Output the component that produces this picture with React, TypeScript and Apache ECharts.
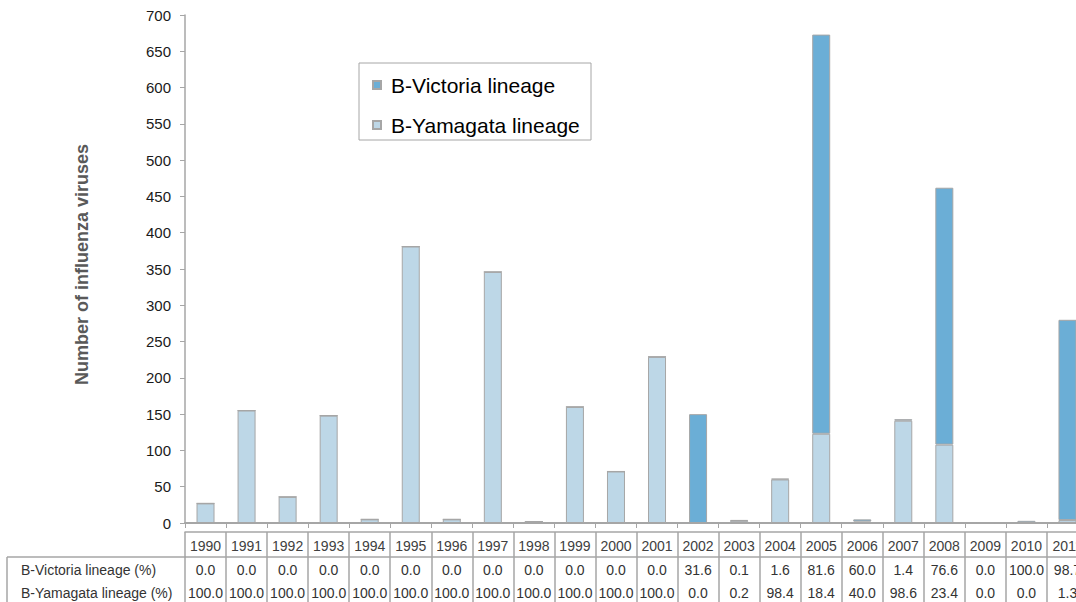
import React, { useEffect, useRef } from "react";
import * as echarts from "echarts";

const years = [
  "1990", "1991", "1992", "1993", "1994", "1995", "1996", "1997", "1998", "1999", "2000",
  "2001", "2002", "2003", "2004", "2005", "2006", "2007", "2008", "2009", "2010", "2011",
];
const victoriaCounts = [0, 0, 0, 0, 0, 0, 0, 0, 0, 0, 0, 0, 150, 1, 1, 550, 3, 2, 354, 0, 3, 276];
const yamagataCounts = [27, 155, 36, 148, 5, 381, 5, 346, 2, 160, 71, 229, 0, 3, 60, 123, 2, 141, 108, 0, 0, 4];
const victoriaPct = [0, 0, 0, 0, 0, 0, 0, 0, 0, 0, 0, 0, 31.6, 0.1, 1.6, 81.6, 60.0, 1.4, 76.6, 0, 100.0, 98.7];
const yamagataPct = [100, 100, 100, 100, 100, 100, 100, 100, 100, 100, 100, 100, 0, 0.2, 98.4, 18.4, 40.0, 98.6, 23.4, 0, 0, 1.3];
const rowLabels = ["B-Victoria lineage (%)", "B-Yamagata lineage (%)"];
const seriesNames = ["B-Victoria lineage", "B-Yamagata lineage"];
const yMin = 0;
const yMax = 700;
const yInterval = 50;

const FONT = "'Liberation Sans', Arial, sans-serif";
const GRAY = "#a6a6a6";

export default function App() {
  const ref = useRef<HTMLDivElement>(null);
  useEffect(() => {
    if (!ref.current) return;
    const chart = echarts.init(ref.current, undefined, { renderer: "svg" });
    const gridTop = 15;
    const gridBottom = 79;
    const axisY = 602 - gridBottom; // 523
    const fmt = (v: number) => v.toFixed(1);
    chart.setOption({
      animation: false,
      textStyle: { fontFamily: FONT },
      grid: { left: 185, width: 903, top: gridTop, bottom: gridBottom, containLabel: false },
      legend: {
        orient: "vertical",
        left: 372,
        top: 74,
        padding: 0,
        icon: "rect",
        itemWidth: 8,
        itemHeight: 8,
        itemGap: 18,
        data: seriesNames,
        textStyle: { fontSize: 21, color: "#000", fontFamily: FONT, lineHeight: 22, padding: [0, 0, 0, 5] },
        z: 10,
      },
      graphic: [
        {
          type: "rect",
          shape: { x: 359, y: 63, width: 232, height: 77 },
          style: { fill: "#fff", stroke: GRAY, lineWidth: 1 },
          z: 1,
        },
        {
          type: "line",
          shape: { x1: 7, y1: axisY + 34, x2: 186, y2: axisY + 34 },
          style: { stroke: GRAY, lineWidth: 1.5 },
        },
        {
          type: "line",
          shape: { x1: 7, y1: axisY + 34, x2: 7, y2: 610 },
          style: { stroke: GRAY, lineWidth: 1.5 },
        },
        {
          type: "text",
          x: 21,
          y: axisY + 46.5,
          style: { text: rowLabels[0], fontSize: 14, fill: "#333", fontFamily: FONT, verticalAlign: "middle" },
        },
        {
          type: "text",
          x: 21,
          y: axisY + 69.5,
          style: { text: rowLabels[1], fontSize: 14, fill: "#333", fontFamily: FONT, verticalAlign: "middle" },
        },
      ],
      xAxis: [
        {
          type: "category",
          data: years,
          position: "bottom",
          axisLine: { lineStyle: { color: GRAY, width: 2 } },
          axisTick: { show: true, length: 5, lineStyle: { color: GRAY, width: 1 } },
          axisLabel: { show: false },
          splitLine: { show: false },
        },
        {
          type: "category",
          data: years,
          position: "bottom",
          offset: 9,
          axisLine: { lineStyle: { color: GRAY, width: 1.5 } },
          axisTick: { show: true, length: 25, lineStyle: { color: GRAY, width: 1.5 } },
          axisLabel: { show: true, interval: 0, fontSize: 14, color: "#404040", margin: 14, verticalAlign: "middle", fontFamily: FONT },
        },
        {
          type: "category",
          data: victoriaPct.map(fmt),
          position: "bottom",
          offset: 34,
          axisLine: { lineStyle: { color: GRAY, width: 1.5 } },
          axisTick: { show: true, length: 50, lineStyle: { color: GRAY, width: 1.5 } },
          axisLabel: { show: true, interval: 0, fontSize: 14, color: "#333", margin: 12.5, verticalAlign: "middle", fontFamily: FONT },
        },
        {
          type: "category",
          data: yamagataPct.map(fmt),
          position: "bottom",
          offset: 34,
          axisLine: { show: false },
          axisTick: { show: false },
          axisLabel: { show: true, interval: 0, fontSize: 14, color: "#333", margin: 35.5, verticalAlign: "middle", fontFamily: FONT },
        },
      ],
      yAxis: {
        type: "value",
        min: yMin,
        max: yMax,
        interval: yInterval,
        name: "Number of influenza viruses",
        nameLocation: "middle",
        nameGap: 94,
        nameTextStyle: { fontSize: 18, fontWeight: "bold", color: "#595959", fontFamily: FONT, padding: [0, 0, 0, 9] },
        axisLine: { show: true, lineStyle: { color: GRAY, width: 1.5 } },
        axisTick: { show: true, length: 5, lineStyle: { color: GRAY } },
        axisLabel: { fontSize: 15, color: "#1a1a1a", margin: 14, fontFamily: FONT },
        splitLine: { show: false },
      },
      series: [
        {
          name: seriesNames[1],
          type: "bar",
          stack: "total",
          barWidth: 18,
          xAxisIndex: 0,
          data: yamagataCounts,
          itemStyle: { color: "#bdd7e7", borderColor: GRAY, borderWidth: 1 },
        },
        {
          name: seriesNames[0],
          type: "bar",
          stack: "total",
          barWidth: 18,
          xAxisIndex: 0,
          data: victoriaCounts,
          itemStyle: { color: "#6baed6", borderColor: GRAY, borderWidth: 1 },
        },
      ],
    });
    return () => chart.dispose();
  }, []);
  return (
    <div
      ref={ref}
      style={{ position: "fixed", left: 0, top: 0, width: 1100, height: 602, background: "#fff" }}
    />
  );
}
